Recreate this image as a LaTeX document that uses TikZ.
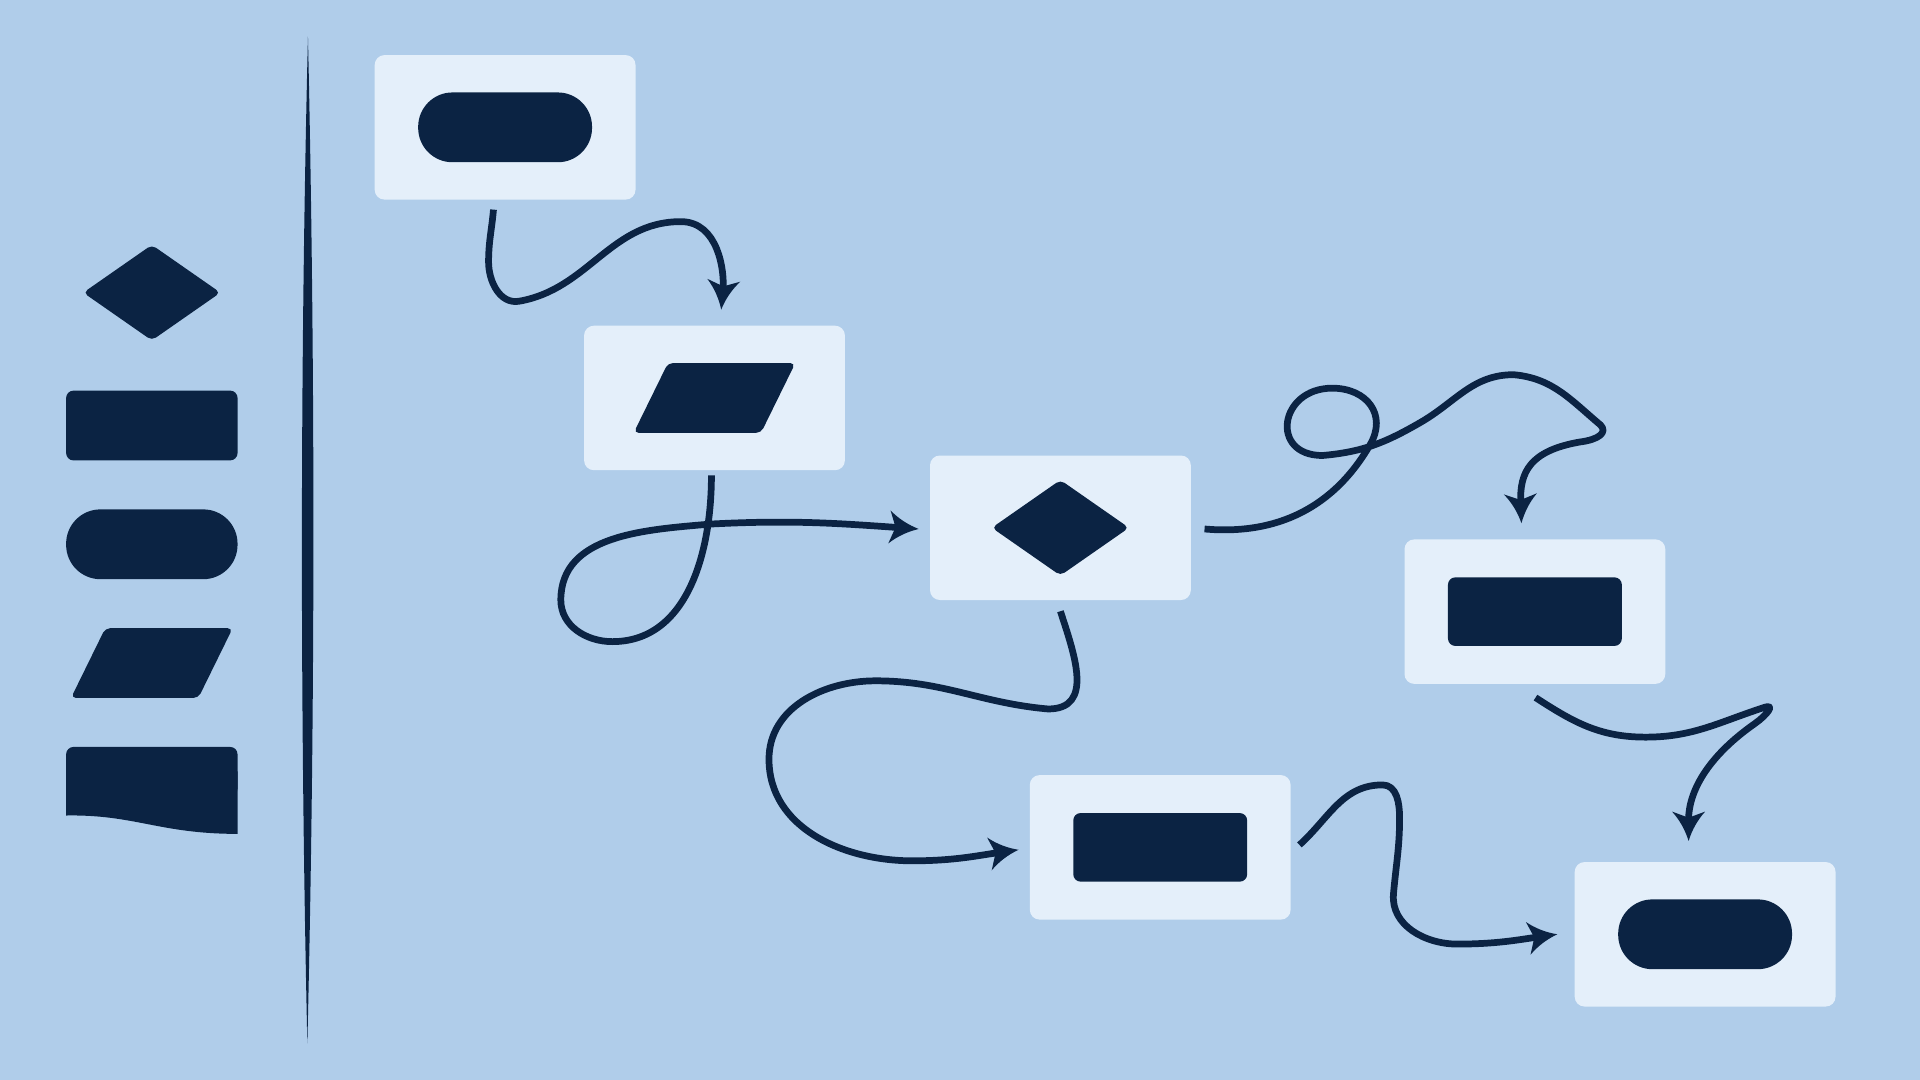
\documentclass[tikz,border=0pt]{standalone}
\usetikzlibrary{arrows.meta,calc}
\definecolor{bgblue}{RGB}{176,205,234}
\definecolor{boxfill}{RGB}{228,239,250}
\definecolor{ink}{RGB}{11,35,67}
\pgfdeclarearrow{
  name = Swept,
  setup code = {
    \pgfarrowssettipend{0pt}
    \pgfarrowssetbackend{-24pt}
    \pgfarrowssetvisualbackend{-24pt}
    \pgfarrowssetlineend{-17pt}
    \pgfarrowshullpoint{0pt}{0pt}
    \pgfarrowshullpoint{-24pt}{13.5pt}
    \pgfarrowshullpoint{-24pt}{-13.5pt}
  },
  drawing code = {
    \pgfpathmoveto{\pgfqpoint{0pt}{0pt}}
    \pgfpathcurveto{\pgfqpoint{-9pt}{2.8pt}}{\pgfqpoint{-17pt}{7.2pt}}{\pgfqpoint{-24pt}{13.5pt}}
    \pgfpathlineto{\pgfqpoint{-19pt}{0pt}}
    \pgfpathlineto{\pgfqpoint{-24pt}{-13.5pt}}
    \pgfpathcurveto{\pgfqpoint{-17pt}{-7.2pt}}{\pgfqpoint{-9pt}{-2.8pt}}{\pgfqpoint{0pt}{0pt}}
    \pgfpathclose
    \pgfusepathqfill
  }
}
\tikzset{
  panel/.style={fill=boxfill, draw=none, rounded corners=8pt, minimum width=213pt, minimum height=118pt, inner sep=0pt},
  link/.style={draw=ink, line width=5.5pt, line join=round, -Swept},
  pics/stadiumglyph/.style={code={\fill[ink, rounded corners=28pt] (-71,-28.5) rectangle (71,28.5);}},
  pics/rectglyph/.style={code={\fill[ink, rounded corners=6pt] (-71,-28) rectangle (71,28);}},
  pics/paraglyph/.style={code={\fill[ink, rounded corners=4pt] (-66,28.5) -- (-38,-28.5) -- (66,-28.5) -- (38,28.5) -- cycle;}},
  pics/diamondglyph/.style={code={\fill[ink, rounded corners=4pt] (-56,0) -- (0,-39) -- (56,0) -- (0,39) -- cycle;}},
}
\begin{document}
\begin{tikzpicture}[x=1pt, y=-1pt]
\fill[bgblue] (0,0) rectangle (1568,882);
\useasboundingbox (0,0) rectangle (1568,882);

% divider
\fill[ink] (251.5,30) .. controls (245,300) and (245,580) .. (251,852) .. controls (257.5,580) and (257.5,300) .. (251.5,30) -- cycle;

% legend shapes
\coordinate (lg1) at (124,239);
\coordinate (lg4) at (124,541.5);
\pic at (lg1) {diamondglyph};
\fill[ink, rounded corners=6pt] (54,319) rectangle (194,376);
\fill[ink, rounded corners=28pt] (54,416) rectangle (194,473);
\pic at (lg4) {paraglyph};
\fill[ink, rounded corners=6pt] (54,610) rectangle (194,650);
\fill[ink] (54,630) -- (194,630) -- (194,681) .. controls (130,681) and (110,665) .. (54,666) -- cycle;

% panels
\node[panel] (b1) at (412.5,104) {};
\node[panel] (b2) at (583.5,325) {};
\node[panel] (b3) at (866,431) {};
\node[panel] (b4) at (1253.5,499.5) {};
\node[panel] (b5) at (947.5,692) {};
\node[panel] (b6) at (1392.5,763) {};
\pic at (b1.center) {stadiumglyph};
\pic at (b2.center) {paraglyph};
\pic at (b3.center) {diamondglyph};
\pic at (b4.center) {rectglyph};
\pic at (b5.center) {rectglyph};
\pic at (b6.center) {stadiumglyph};

% connector end points
\coordinate (c1s) at ($(b1.south)+(-9.5,8)$);
\coordinate (c1e) at ($(b2.north)+(5.5,-13)$);
\coordinate (c2s) at ($(b2.south)+(-2.5,4)$);
\coordinate (c2e) at ($(b3.west)+(-9,1)$);
\coordinate (c3s) at ($(b3.east)+(11,1)$);
\coordinate (c3e) at ($(b4.north)+(-11,-13)$);
\coordinate (c4s) at ($(b3.south)+(0,9)$);
\coordinate (c4e) at ($(b5.west)+(-9,2)$);
\coordinate (c5s) at ($(b5.east)+(7,-2)$);
\coordinate (c5e) at ($(b6.west)+(-14,0)$);
\coordinate (c6s) at ($(b4.south)+(0.5,11)$);
\coordinate (c6e) at ($(b6.north)+(-13.5,-17)$);

% connectors
\draw[link] (c1s) to[out=265,in=90] (399,214) to[out=270,in=190] (424,246) to[out=10,in=180] (556,181) to[out=0,in=85] (c1e);
\draw[link] (c2s) to[out=270,in=0] (500,524) to[out=180,in=270] (458,490) to[out=90,in=185] (580,428) to[out=3,in=176] (c2e);
\draw[link] (c3s) to[out=-5,in=240] (1119,363) to[out=60,in=0,looseness=1.3] (1088,317) to[out=180,in=180,looseness=2] (1080,372) to[out=5,in=210] (1160,345) to[out=30,in=180] (1236,306) to[out=-5,in=140] (1307,347) .. controls (1313,353) and (1306,359) .. (1290,361) to[out=190,in=92,looseness=1.3] (c3e);
\draw[link] (c4s) to[out=-72,in=0,looseness=1.2] (856,579) to[out=175,in=0] (715,556) to[out=180,in=90] (628,620) to[out=270,in=180] (745,703) to[out=0,in=188] (c4e);
\draw[link] (c5s) to[out=42,in=180] (1129,641) to[out=0,in=90] (1143,668) to[out=270,in=85] (1138,730) to[out=265,in=180] (1190,771) to[out=0,in=188] (c5e);
\draw[link] (c6s) to[out=-33,in=180] (1344,602) to[out=0,in=198] (1440,578) .. controls (1451,574) and (1443,584) .. (1433,591) to[out=215,in=90] (c6e);
\end{tikzpicture}
\end{document}
